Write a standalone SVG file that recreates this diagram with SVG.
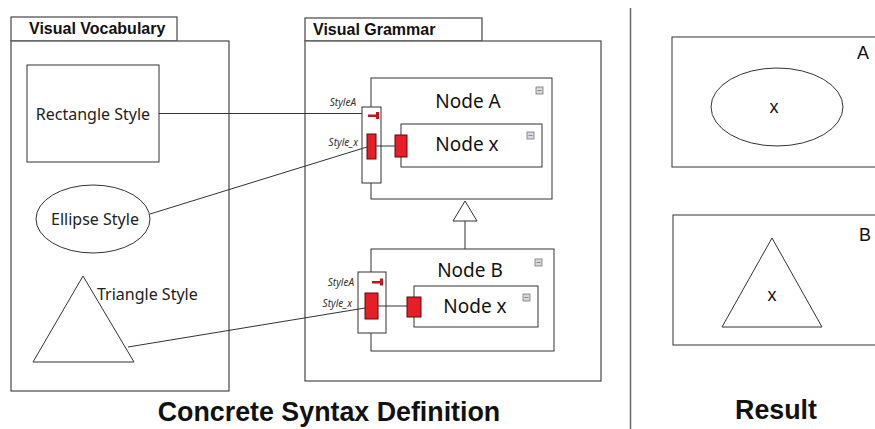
<svg xmlns="http://www.w3.org/2000/svg" width="875" height="429" viewBox="0 0 875 429">
<defs>
<style>
.frame{fill:#fff;stroke:#555;stroke-width:1.3}
.box{fill:#fff;stroke:#333;stroke-width:1}
.shape{fill:#fff;stroke:#333;stroke-width:1}
.conn{fill:none;stroke:#333;stroke-width:1}
.red{fill:#e61e28;stroke:#5a0a0a;stroke-width:1}
.key{fill:#c0151d}
.tab{font-family:"Liberation Sans",Arial,sans-serif;font-weight:bold;font-size:16px;fill:#111}
.lbl{font-family:"Noto Sans","Open Sans",sans-serif;font-size:16px;fill:#222}
.node{font-family:"Noto Sans","Open Sans",sans-serif;font-size:19px;fill:#111}
.small{font-family:"Noto Sans","Open Sans",sans-serif;font-size:10px;font-style:italic;fill:#333}
.res{font-family:"Liberation Sans",Arial,sans-serif;font-size:18px;fill:#111}
.title{font-family:"Liberation Sans",Arial,sans-serif;font-weight:bold;font-size:26.8px;fill:#111}
.icon{fill:#d8d8e0;stroke:#777;stroke-width:0.8}
</style>
<g id="collapse-icon">
<rect class="icon" x="0" y="0" width="7" height="7"/>
<line x1="1.5" y1="3.5" x2="5.5" y2="3.5" stroke="#777" stroke-width="0.8"/>
</g>
</defs>
<rect width="875" height="429" fill="#fff"/>

<g id="visual-vocabulary">
<rect class="frame" x="11" y="17" width="166" height="24"/>
<rect class="frame" x="11" y="41" width="218" height="350"/>
<text class="tab" x="29" y="34">Visual Vocabulary</text>
</g>

<g id="rectangle-style">
<rect class="shape" x="27" y="65" width="132" height="97"/>
<text class="lbl" x="93" y="120" text-anchor="middle">Rectangle Style</text>
</g>

<g id="ellipse-style">
<ellipse class="shape" cx="93" cy="219" rx="57" ry="34"/>
<text class="lbl" x="95" y="225" text-anchor="middle">Ellipse Style</text>
</g>

<g id="triangle-style">
<polygon class="shape" points="83,276 33,362 134,362"/>
<text class="lbl" x="97" y="300">Triangle Style</text>
</g>

<g id="visual-grammar">
<rect class="frame" x="305" y="18" width="177" height="23"/>
<rect class="frame" x="305" y="41" width="296" height="340"/>
<text class="tab" x="313" y="35">Visual Grammar</text>
</g>

<g id="node-a">
<rect class="box" x="371" y="78" width="181" height="121"/>
<text class="node" x="468" y="108" text-anchor="middle">Node A</text>
<use href="#collapse-icon" x="536" y="87"/>
<rect class="box" x="362" y="107" width="19" height="76"/>
<text class="small" x="356" y="106" text-anchor="end">StyleA</text>
<path class="key" d="M368,114.5h8v2.5h-8z M376,112h3v7h-3z"/>
<text class="small" x="358" y="146" text-anchor="end">Style_x</text>
<rect class="red" x="367" y="134" width="9" height="25"/>
</g>

<g id="node-a-x">
<rect class="box" x="401" y="124" width="141" height="43"/>
<text class="node" x="467" y="151" text-anchor="middle">Node x</text>
<use href="#collapse-icon" x="527" y="132"/>
<rect class="red" x="395" y="135" width="12" height="22"/>
</g>

<g id="node-b">
<rect class="box" x="371" y="249" width="183" height="102"/>
<text class="node" x="470" y="277" text-anchor="middle">Node B</text>
<use href="#collapse-icon" x="535" y="259"/>
<rect class="box" x="358" y="272" width="28" height="61"/>
<text class="small" x="354" y="286" text-anchor="end">StyleA</text>
<path class="key" d="M372,281h8v2.5h-8z M380,278.5h3v7h-3z"/>
<text class="small" x="352" y="307" text-anchor="end">Style_x</text>
<rect class="red" x="365" y="293" width="13" height="26"/>
</g>

<g id="node-b-x">
<rect class="box" x="414" y="286" width="124" height="41"/>
<text class="node" x="475" y="313" text-anchor="middle">Node x</text>
<use href="#collapse-icon" x="523" y="294"/>
<rect class="red" x="407" y="297" width="14" height="20"/>
</g>

<g id="result-a">
<rect class="box" x="672" y="37" width="210" height="130"/>
<text class="res" x="863" y="59" text-anchor="middle">A</text>
<ellipse class="shape" cx="777" cy="107" rx="66" ry="39"/>
<text class="res" x="774" y="113" text-anchor="middle">x</text>
</g>

<g id="result-b">
<rect class="box" x="673" y="215" width="210" height="130"/>
<text class="res" x="865" y="241" text-anchor="middle">B</text>
<polygon class="shape" points="772,238 722,327 822,327"/>
<text class="res" x="772" y="301" text-anchor="middle">x</text>
</g>

<g id="connectors">
<line class="conn" x1="159" y1="113.5" x2="362" y2="113.5"/>
<line class="conn" x1="150" y1="214" x2="367" y2="147"/>
<line class="conn" x1="128" y1="347" x2="365" y2="308"/>
<line class="conn" x1="376" y1="146" x2="395" y2="146"/>
<line class="conn" x1="378" y1="306" x2="407" y2="306"/>
<polygon class="shape" points="465,201 453,221 477,221"/>
<line class="conn" x1="465" y1="221" x2="465" y2="249"/>
<line stroke="#666" stroke-width="1.5" x1="630.5" y1="8" x2="630.5" y2="429"/>
</g>

<g id="titles">
<text class="title" x="329" y="421" text-anchor="middle">Concrete Syntax Definition</text>
<text class="title" x="776" y="419" text-anchor="middle">Result</text>
</g>
</svg>
